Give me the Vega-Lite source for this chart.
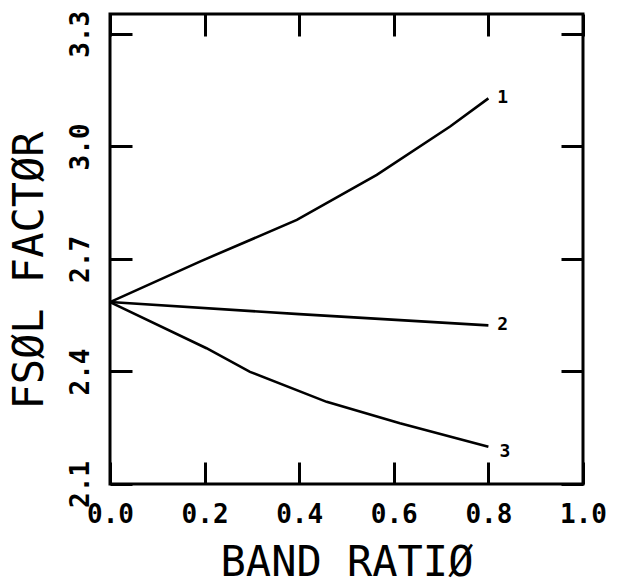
{
  "$schema": "https://vega.github.io/schema/vega-lite/v6.json",
  "width": 473,
  "height": 470,
  "autosize": "none",
  "padding": {"left": 110, "top": 14, "right": 44, "bottom": 102},
  "background": "white",
  "config": {
    "view": {"stroke": "black", "strokeWidth": 3},
    "axis": {
      "domain": false,
      "grid": false,
      "ticks": true,
      "tickColor": "black",
      "tickWidth": 3,
      "tickSize": -22,
      "labelColor": "black",
      "titleColor": "black",
      "labelFlush": false,
      "labelOverlap": false
    }
  },
  "datasets": {
    "curves": [
      {"series": "1", "ratio": 0.0, "fsol": 2.585},
      {"series": "1", "ratio": 0.19, "fsol": 2.693},
      {"series": "1", "ratio": 0.395, "fsol": 2.804},
      {"series": "1", "ratio": 0.564, "fsol": 2.924},
      {"series": "1", "ratio": 0.719, "fsol": 3.053},
      {"series": "1", "ratio": 0.8, "fsol": 3.128},
      {"series": "2", "ratio": 0.0, "fsol": 2.585},
      {"series": "2", "ratio": 0.4, "fsol": 2.553},
      {"series": "2", "ratio": 0.8, "fsol": 2.523},
      {"series": "3", "ratio": 0.0, "fsol": 2.585},
      {"series": "3", "ratio": 0.204, "fsol": 2.462},
      {"series": "3", "ratio": 0.296, "fsol": 2.399},
      {"series": "3", "ratio": 0.458, "fsol": 2.319},
      {"series": "3", "ratio": 0.613, "fsol": 2.262},
      {"series": "3", "ratio": 0.8, "fsol": 2.199}
    ],
    "tags": [
      {"label": "1", "ratio": 0.83, "fsol": 3.13},
      {"label": "2", "ratio": 0.83, "fsol": 2.525},
      {"label": "3", "ratio": 0.835, "fsol": 2.186}
    ]
  },
  "layer": [
    {
      "data": {"name": "curves"},
      "mark": {"type": "line", "color": "black", "strokeWidth": 2.6},
      "encoding": {
        "x": {
          "field": "ratio",
          "type": "quantitative",
          "scale": {"domain": [0, 1], "nice": false, "zero": false},
          "axis": {
            "orient": "bottom",
            "values": [0, 0.2, 0.4, 0.6, 0.8, 1.0],
            "format": ".1f",
            "labelFont": "DejaVu Sans Mono",
            "labelFontWeight": "bold",
            "labelFontSize": 26,
            "labelAlign": "center",
            "labelBaseline": "middle",
            "labelPadding": 52,
            "labelDx": 5,
            "title": "BAND RATIØ",
            "titleFont": "DejaVu Sans Mono",
            "titleFontWeight": "normal",
            "titleFontSize": 42,
            "titleAlign": "center",
            "titleBaseline": "middle",
            "titleX": 236.5,
            "titleY": 78
          }
        },
        "y": {
          "field": "fsol",
          "type": "quantitative",
          "scale": {"domain": [2.1, 3.353], "nice": false, "zero": false},
          "axis": {
            "orient": "left",
            "values": [2.1, 2.4, 2.7, 3.0, 3.3],
            "format": ".1f",
            "labelFont": "DejaVu Sans Mono",
            "labelFontWeight": "bold",
            "labelFontSize": 26,
            "labelAngle": -90,
            "labelAlign": "center",
            "labelBaseline": "middle",
            "labelPadding": 52,
            "title": "FSØL FACTØR",
            "titleFont": "DejaVu Sans Mono",
            "titleFontWeight": "normal",
            "titleFontSize": 42,
            "titleAngle": -90,
            "titleAlign": "center",
            "titleBaseline": "middle",
            "titleX": -81,
            "titleY": 256
          }
        },
        "detail": {"field": "series", "type": "nominal"}
      }
    },
    {
      "data": {"name": "tags"},
      "mark": {"type": "text", "font": "DejaVu Sans Mono", "fontWeight": "bold", "fontSize": 18, "color": "black", "align": "center", "baseline": "middle"},
      "encoding": {
        "x": {
          "field": "ratio",
          "type": "quantitative",
          "scale": {"domain": [0, 1], "nice": false, "zero": false},
          "axis": {"orient": "top", "values": [0, 0.2, 0.4, 0.6, 0.8, 1.0], "labels": false, "title": null}
        },
        "y": {
          "field": "fsol",
          "type": "quantitative",
          "scale": {"domain": [2.1, 3.353], "nice": false, "zero": false},
          "axis": {"orient": "right", "values": [2.1, 2.4, 2.7, 3.0, 3.3], "labels": false, "title": null}
        },
        "text": {"field": "label"}
      }
    }
  ],
  "resolve": {"axis": {"x": "independent", "y": "independent"}}
}
